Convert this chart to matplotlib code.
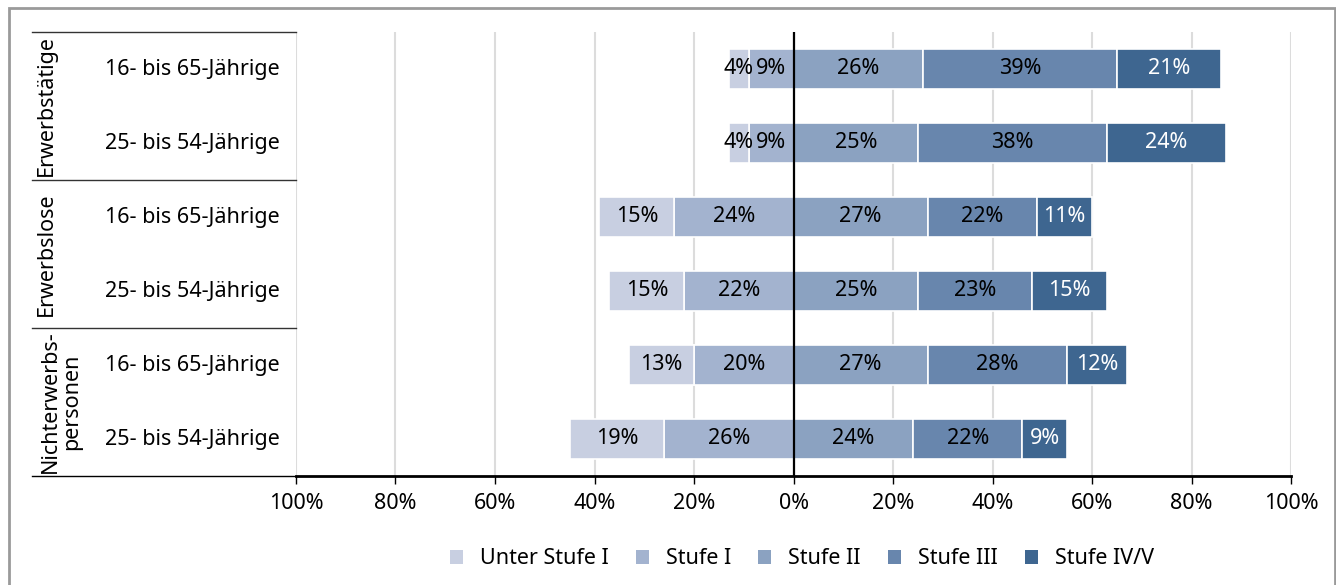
import matplotlib.pyplot as plt
from matplotlib.patches import Rectangle, Patch

plt.rcParams['font.family'] = ['Noto Sans', 'DejaVu Sans']

# Anteile je Kompetenzstufe (in %)
gruppen = ['Erwerbstätige', 'Erwerbslose', 'Nichterwerbs-\npersonen']
alter = ['16- bis 65-Jährige', '25- bis 54-Jährige'] * 3
unter_stufe1 = [4, 4, 15, 15, 13, 19]
stufe1 = [9, 9, 24, 22, 20, 26]
stufe2 = [26, 25, 27, 25, 27, 24]
stufe3 = [39, 38, 22, 23, 28, 22]
stufe4_5 = [21, 24, 11, 15, 12, 9]

stufen = ['Unter Stufe I', 'Stufe I', 'Stufe II', 'Stufe III', 'Stufe IV/V']
farben = ['#c8cfe1', '#a3b3cf', '#8ba2c1', '#6886ad', '#3e6690']
ticks = [-100, -80, -60, -40, -20, 0, 20, 40, 60, 80, 100]

FS = 15.5

W, H = 1336, 585
fig = plt.figure(figsize=(W / 100, H / 100), dpi=100)
ax = fig.add_axes([296 / W, 1 - 476 / H, 995 / W, 444 / H])

y = list(range(len(alter)))
h = 0.53
kw = dict(height=h, edgecolor='white', linewidth=1.2, zorder=3)

# linke Seite: Stufe I direkt an der Null, davor Unter Stufe I
b1 = ax.barh(y, [-v for v in stufe1], color=farben[1], **kw)
b0 = ax.barh(y, [-v for v in unter_stufe1], left=[-v for v in stufe1], color=farben[0], **kw)
# rechte Seite
b2 = ax.barh(y, stufe2, color=farben[2], **kw)
b3 = ax.barh(y, stufe3, left=stufe2, color=farben[3], **kw)
links4 = [a + b for a, b in zip(stufe2, stufe3)]
b4 = ax.barh(y, stufe4_5, left=links4, color=farben[4], **kw)

for bars, werte, col in [(b0, unter_stufe1, 'black'), (b1, stufe1, 'black'),
                         (b2, stufe2, 'black'), (b3, stufe3, 'black'),
                         (b4, stufe4_5, 'white')]:
    for bar, v in zip(bars, werte):
        cx = bar.get_x() + bar.get_width() / 2
        cy = bar.get_y() + bar.get_height() / 2
        ax.text(cx, cy, f'{v}%', ha='center', va='center', fontsize=FS,
                color=col, zorder=4)

ax.set_xlim(-100, 100)
ax.set_ylim(5.5, -0.5)
ax.set_xticks(ticks)
ax.set_xticklabels([f'{abs(t)}%' for t in ticks], fontsize=FS)
ax.set_yticks([])
ax.tick_params(axis='x', length=6, width=1, color='black', pad=6)
ax.grid(axis='x', color='#dcdcdc', linewidth=1.5, zorder=0)
ax.set_axisbelow(True)
for s in ['top', 'right', 'left']:
    ax.spines[s].set_visible(False)
ax.spines['bottom'].set_linewidth(2)
ax.axvline(0, color='black', linewidth=1.6, zorder=5)

# Tabelle links: Trennlinien, Gruppen und Altersgruppen
tr = ax.get_yaxis_transform()
x0 = (32 - 296) / 995
for yy in [-0.5, 1.5, 3.5, 5.5]:
    ax.plot([x0, 0], [yy, yy], transform=tr, color='#333333' if yy < 5.5 else 'black',
            linewidth=1, clip_on=False)
for i, lab in enumerate(alter):
    ax.text((192 - 296) / 995, i, lab, transform=tr, ha='center', va='center', fontsize=FS)
for g, lab in enumerate(gruppen):
    xg = (46 - 296) / 995 if '\n' not in lab else (61 - 296) / 995
    ax.text(xg, 2 * g + 0.5, lab, transform=tr, rotation=90, ha='center', va='center',
            multialignment='center', fontsize=FS, linespacing=1.05)

handles = [Patch(facecolor=c, edgecolor='none') for c in farben]
fig.legend(handles, stufen, loc='center', bbox_to_anchor=(802 / W, 1 - 559 / H),
           ncol=5, frameon=False, fontsize=FS, handlelength=0.6, handleheight=0.6,
           handletextpad=0.8, columnspacing=1.25)

# grauer Rahmen
fig.add_artist(Rectangle((9 / W, -0.1), (1335 - 9) / W, 1.1 - 8 / H,
                         transform=fig.transFigure, fill=False,
                         edgecolor='#9a9a9a', linewidth=2))

fig.savefig('out.png', dpi=100)
